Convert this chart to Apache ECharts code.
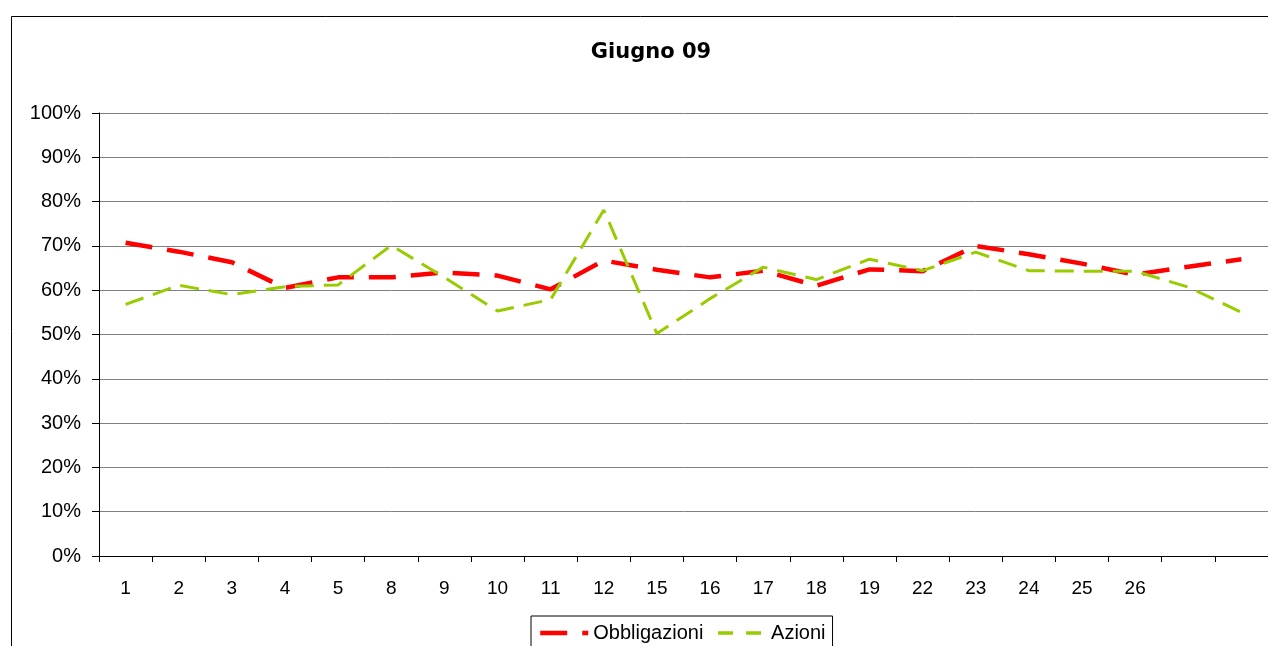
<!DOCTYPE html>
<html>
<head>
<meta charset="utf-8">
<script src="https://cdn.jsdelivr.net/npm/echarts@6/dist/echarts.min.js"></script>
<style>
html,body{margin:0;padding:0;background:#fff;}
#chart{width:1268px;height:646px;}
</style>
</head>
<body>
<div id="chart"></div>
<script>
const titleText = 'Giugno 09';
const categories = ['1','2','3','4','5','8','9','10','11','12','15','16','17','18','19','22','23','24','25','26','',''];
const obbligazioni = [70.7,68.7,66.3,60.5,62.9,62.9,64.0,63.3,60.2,66.7,64.6,62.9,64.4,61.0,64.7,64.3,70.0,68.1,66.0,63.5,65.3,67.0];
const azioni = [56.8,61.1,59.0,60.8,61.2,70.1,62.9,55.3,57.9,78.1,50.2,58.1,65.2,62.4,67.0,64.4,68.6,64.4,64.3,64.3,60.7,55.0];
const yTicks = [0,10,20,30,40,50,60,70,80,90,100];

const chart = echarts.init(document.getElementById('chart'));
const labelFont = 'Liberation Sans, Arial, sans-serif';
chart.setOption({
  animation: false,
  backgroundColor: '#ffffff',
  graphic: [{
    type: 'rect',
    shape: {x: 11.5, y: 16.5, width: 1400, height: 800},
    style: {fill: 'none', stroke: '#000', lineWidth: 1},
    silent: true, z: -1
  }],
  title: {
    text: titleText,
    left: 646, top: 37, textAlign: 'center',
    textStyle: {fontFamily: 'DejaVu Sans', fontWeight: 'bold', fontSize: 21, color: '#000'}
  },
  legend: {
    left: 531, top: 616,
    padding: [7, 7, 7, 7],
    itemWidth: 48, itemHeight: 20, itemGap: 13,
    borderColor: '#000', borderWidth: 1,
    itemStyle: {opacity: 0},
    textStyle: {fontFamily: labelFont, fontSize: 20, color: '#000'},
    data: [
      {name: 'Obbligazioni', itemStyle: {opacity: 0}, lineStyle: {width: 4.5, type: [27, 15]}},
      {name: 'Azioni', itemStyle: {opacity: 0}, lineStyle: {width: 3.5, type: [15, 13]}}
    ]
  },
  grid: {left: 99, top: 113, width: 1170, height: 443, containLabel: false},
  xAxis: {
    type: 'category',
    data: categories,
    boundaryGap: true,
    axisLine: {lineStyle: {color: '#000', width: 1}},
    axisTick: {show: true, length: 6, alignWithLabel: false, interval: 0, lineStyle: {color: '#000'}},
    axisLabel: {interval: 0, margin: 23, fontFamily: labelFont, fontSize: 19, color: '#000'},
    splitLine: {show: false}
  },
  yAxis: {
    type: 'value',
    min: 0, max: 100, interval: 10,
    axisLine: {show: true, lineStyle: {color: '#000', width: 1}},
    axisTick: {show: true, length: 7, lineStyle: {color: '#000'}},
    axisLabel: {margin: 18, fontFamily: labelFont, fontSize: 20, color: '#000',
      formatter: v => yTicks.indexOf(v) >= 0 ? v + '%' : ''},
    splitLine: {show: true, lineStyle: {color: '#808080', width: 1}}
  },
  series: [
    {
      name: 'Obbligazioni', type: 'line', data: obbligazioni,
      symbol: 'none', color: '#FF0000',
      lineStyle: {color: '#FF0000', width: 4.5, type: [27, 15]},
      z: 2
    },
    {
      name: 'Azioni', type: 'line', data: azioni,
      symbol: 'none', color: '#99CC00',
      lineStyle: {color: '#99CC00', width: 3, type: [19, 10]},
      z: 3
    }
  ]
});
</script>
</body>
</html>
